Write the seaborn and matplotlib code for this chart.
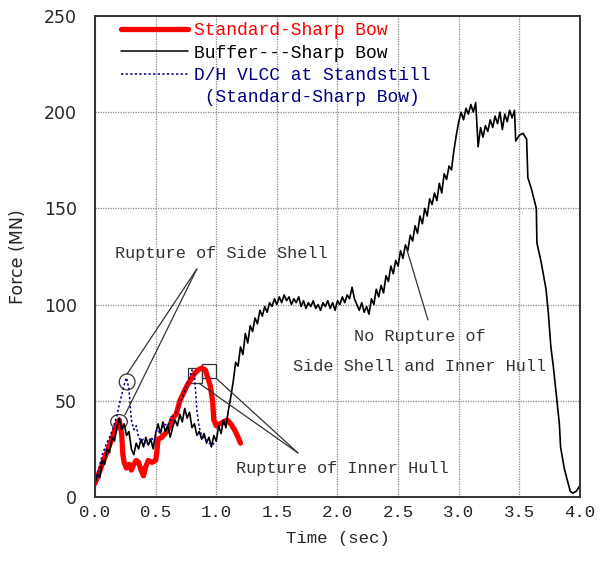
import pandas as pd
import matplotlib.pyplot as plt
import seaborn as sns
from matplotlib.lines import Line2D
from matplotlib.patches import Ellipse, Rectangle
from matplotlib.ticker import MultipleLocator

# Buffer---Sharp Bow
buffer_t = [0.00, 0.02, 0.04, 0.06, 0.08, 0.10, 0.12, 0.14, 0.16, 0.18,
            0.20, 0.22, 0.24, 0.26, 0.28, 0.30, 0.32, 0.34, 0.36, 0.38,
            0.40, 0.42, 0.44, 0.46, 0.48, 0.50, 0.52, 0.54, 0.56, 0.58,
            0.60, 0.62, 0.64, 0.66, 0.68, 0.70, 0.72, 0.74, 0.76, 0.78,
            0.80, 0.82, 0.84, 0.86, 0.88, 0.90, 0.92, 0.94, 0.96, 0.98,
            1.00, 1.02, 1.04, 1.06, 1.08, 1.10, 1.12, 1.14, 1.16, 1.18,
            1.20, 1.22, 1.24, 1.26, 1.28, 1.30, 1.32, 1.34, 1.36, 1.38,
            1.40, 1.42, 1.44, 1.46, 1.48, 1.50, 1.52, 1.54, 1.56, 1.58,
            1.60, 1.62, 1.64, 1.66, 1.68, 1.70, 1.72, 1.74, 1.76, 1.78,
            1.80, 1.82, 1.84, 1.86, 1.88, 1.90, 1.92, 1.94, 1.96, 1.98,
            2.00, 2.02, 2.04, 2.06, 2.08, 2.10, 2.12, 2.14, 2.16, 2.18,
            2.20, 2.22, 2.24, 2.26, 2.28, 2.30, 2.32, 2.34, 2.36, 2.38,
            2.40, 2.42, 2.44, 2.46, 2.48, 2.50, 2.52, 2.54, 2.56, 2.58,
            2.60, 2.62, 2.64, 2.66, 2.68, 2.70, 2.72, 2.74, 2.76, 2.78,
            2.80, 2.82, 2.84, 2.86, 2.88, 2.90, 2.92, 2.94, 2.96, 2.98,
            3.00, 3.02, 3.04, 3.06, 3.08, 3.10, 3.12, 3.14, 3.16, 3.18,
            3.20, 3.22, 3.24, 3.26, 3.28, 3.30, 3.32, 3.34, 3.36, 3.38,
            3.40, 3.42, 3.44, 3.46, 3.47, 3.50, 3.53, 3.56, 3.57, 3.60,
            3.64, 3.645, 3.68, 3.72, 3.74, 3.76, 3.78, 3.81, 3.83, 3.84,
            3.87, 3.89, 3.92, 3.94, 3.97, 4.00]
buffer_f = [7, 12, 10, 19, 17, 25, 23, 31, 29, 36,
            41, 35, 38, 32, 34, 25, 22, 28, 25, 30,
            26, 31, 27, 30, 25, 33, 38, 33, 39, 34,
            37, 31, 36, 40, 37, 43, 39, 46, 41, 44,
            36, 38, 32, 34, 30, 33, 28, 31, 26, 32,
            29, 37, 33, 40, 36, 45, 52, 60, 70, 68,
            78, 74, 85, 80, 89, 86, 93, 90, 97, 94,
            99, 96, 101, 99, 103, 100, 104, 101, 105, 102,
            104, 100, 103, 101, 104, 99, 102, 98, 101, 99,
            102, 98, 100, 97, 101, 99, 102, 98, 101, 97,
            102, 100, 104, 101, 105, 103, 109, 103, 100, 97,
            101, 96, 99, 95, 103, 100, 108, 104, 110, 106,
            115, 112, 120, 116, 123, 120, 128, 124, 131, 128,
            136, 133, 141, 137, 146, 142, 150, 146, 155, 152,
            158, 154, 163, 158, 168, 165, 172, 170, 180, 188,
            195, 200, 196, 202, 199, 204, 200, 205, 182, 192,
            187, 193, 190, 196, 192, 198, 194, 200, 191, 199,
            195, 201, 197, 201, 185, 188, 189, 186, 166, 160,
            150, 132, 122, 108, 95, 78, 68, 50, 38, 26,
            15, 10, 3, 2, 3, 6]

# Standard-Sharp Bow
standard_t = [0.00, 0.03, 0.06, 0.09, 0.12, 0.15, 0.18, 0.20, 0.22, 0.23,
              0.24, 0.26, 0.28, 0.30, 0.32, 0.34, 0.36, 0.38, 0.40, 0.42,
              0.44, 0.47, 0.50, 0.51, 0.52, 0.55, 0.58, 0.61, 0.64, 0.67,
              0.70, 0.73, 0.76, 0.79, 0.82, 0.85, 0.88, 0.91, 0.93, 0.95,
              0.97, 0.98, 1.00, 1.03, 1.06, 1.09, 1.12, 1.15, 1.18, 1.20]
standard_f = [7, 12, 17, 22, 27, 32, 38, 40, 33, 22,
              18, 15, 17, 14, 17, 19, 18, 14, 11, 16,
              19, 18, 19, 23, 30, 31, 33, 36, 41, 43,
              50, 54, 58, 61, 64, 66, 67, 66, 62, 58,
              50, 40, 37, 38, 39, 40, 38, 35, 31, 28]

# D/H VLCC at Standstill (Standard-Sharp Bow)
standstill_t = [0.00, 0.03, 0.06, 0.09, 0.12, 0.15, 0.18, 0.20, 0.22, 0.24,
                0.26, 0.28, 0.29, 0.30, 0.32, 0.34, 0.36, 0.38, 0.40, 0.43,
                0.46, 0.49, 0.51, 0.54, 0.57, 0.60, 0.63, 0.66, 0.69, 0.72,
                0.75, 0.78, 0.80, 0.82, 0.83, 0.84, 0.86, 0.88, 0.91, 0.94,
                0.97, 1.00]
standstill_f = [8, 14, 22, 27, 31, 36, 42, 48, 53, 58,
                62, 56, 48, 40, 35, 37, 31, 29, 30, 27,
                31, 29, 35, 33, 38, 37, 41, 43, 47, 52,
                57, 62, 66, 63, 55, 45, 36, 32, 30, 28,
                27, 30]

mono = "Liberation Mono"
note_color = "#333333"

sns.set_style("white")
fig = plt.figure(figsize=(6.02, 5.62), dpi=100)
ax = fig.add_axes([0.1578, 0.1157, 0.8056, 0.8559])

sns.lineplot(x=standard_t, y=standard_f, ax=ax, color="#ff0000", lw=3.8,
             estimator=None, sort=False)
sns.lineplot(x=buffer_t, y=buffer_f, ax=ax, color="black", lw=1.2,
             estimator=None, sort=False)
sns.lineplot(x=standstill_t, y=standstill_f, ax=ax, color="#000080", lw=1.1,
             linestyle=(0, (1.5, 1.5)), estimator=None, sort=False)

ax.set_xlim(0, 4)
ax.set_ylim(0, 250)
ax.xaxis.set_major_locator(MultipleLocator(0.5))
ax.xaxis.set_minor_locator(MultipleLocator(0.1))
ax.yaxis.set_major_locator(MultipleLocator(50))
ax.yaxis.set_minor_locator(MultipleLocator(10))
ax.xaxis.set_major_formatter(lambda v, p: f"{v:.1f}")
ax.grid(True, which="major", color="#888888", lw=0.9, linestyle=(0, (1, 1)))
ax.tick_params(which="both", direction="in", length=6, width=0.9,
               color="#555555", top=False, right=False)
ax.tick_params(axis="x", which="major", pad=6, labelsize=12.5)
ax.tick_params(axis="y", which="major", pad=13, labelsize=12.5)
for lab in ax.get_xticklabels():
    lab.set_family(mono)
for lab in ax.get_yticklabels():
    lab.set_family("DejaVu Sans")
for s in ax.spines.values():
    s.set_color("#333333")
    s.set_linewidth(1.4)

ax.set_xlabel("Time (sec)", family=mono, fontsize=12.5, labelpad=8)
ax.set_ylabel("Force (MN)", family="DejaVu Sans", fontsize=12.5, labelpad=12)

# circles and squares marking the ruptures
ax.add_patch(Ellipse((0.198, 39.1), 0.137, 7.5, fill=False, ec=note_color, lw=0.9))
ax.add_patch(Ellipse((0.265, 59.8), 0.13, 8.3, fill=False, ec=note_color, lw=0.9))
ax.add_patch(Rectangle((0.77, 59.1), 0.11, 7.8, fill=False, ec=note_color, lw=0.9))
ax.add_patch(Rectangle((0.88, 61.7), 0.12, 7.3, fill=False, ec=note_color, lw=0.9))

ax.plot([0.264, 0.84], [63.9, 118.5], color=note_color, lw=0.9)
ax.plot([0.247, 0.84], [42.6, 118.5], color=note_color, lw=0.9)
ax.plot([0.858, 1.674], [59.1, 22.9], color=note_color, lw=0.9)
ax.plot([1.004, 1.674], [61.4, 22.9], color=note_color, lw=0.9)
ax.plot([2.573, 2.746], [128.4, 92.0], color=note_color, lw=0.9)

ax.text(1.043, 126.3, "Rupture of Side Shell", ha="center", va="center",
        family=mono, fontsize=12.2, color=note_color)
ax.text(2.04, 15.0, "Rupture of Inner Hull", ha="center", va="center",
        family=mono, fontsize=12.2, color=note_color)
ax.text(2.68, 83.3, "No Rupture of", ha="center", va="center",
        family=mono, fontsize=12.2, color=note_color)
ax.text(2.68, 67.6, "Side Shell and Inner Hull", ha="center", va="center",
        family=mono, fontsize=12.2, color=note_color)

handles = [Line2D([], [], color="#ff0000", lw=3.8),
           Line2D([], [], color="black", lw=1.1),
           Line2D([], [], color="#000080", lw=1.1, linestyle=(0, (1.5, 1.5))),
           Line2D([], [], alpha=0)]
labels = ["Standard-Sharp Bow", "Buffer---Sharp Bow",
          "D/H VLCC at Standstill", " (Standard-Sharp Bow)"]
leg = ax.legend(handles, labels, loc="upper left", bbox_to_anchor=(0.035, 1.006),
                frameon=False, borderpad=0, handlelength=3.7, handletextpad=0.35,
                labelspacing=0.3, prop={"family": mono, "size": 13},
                labelcolor=["#ff0000", "black", "#000080", "#000080"])

fig.savefig("out.png", dpi=100)
